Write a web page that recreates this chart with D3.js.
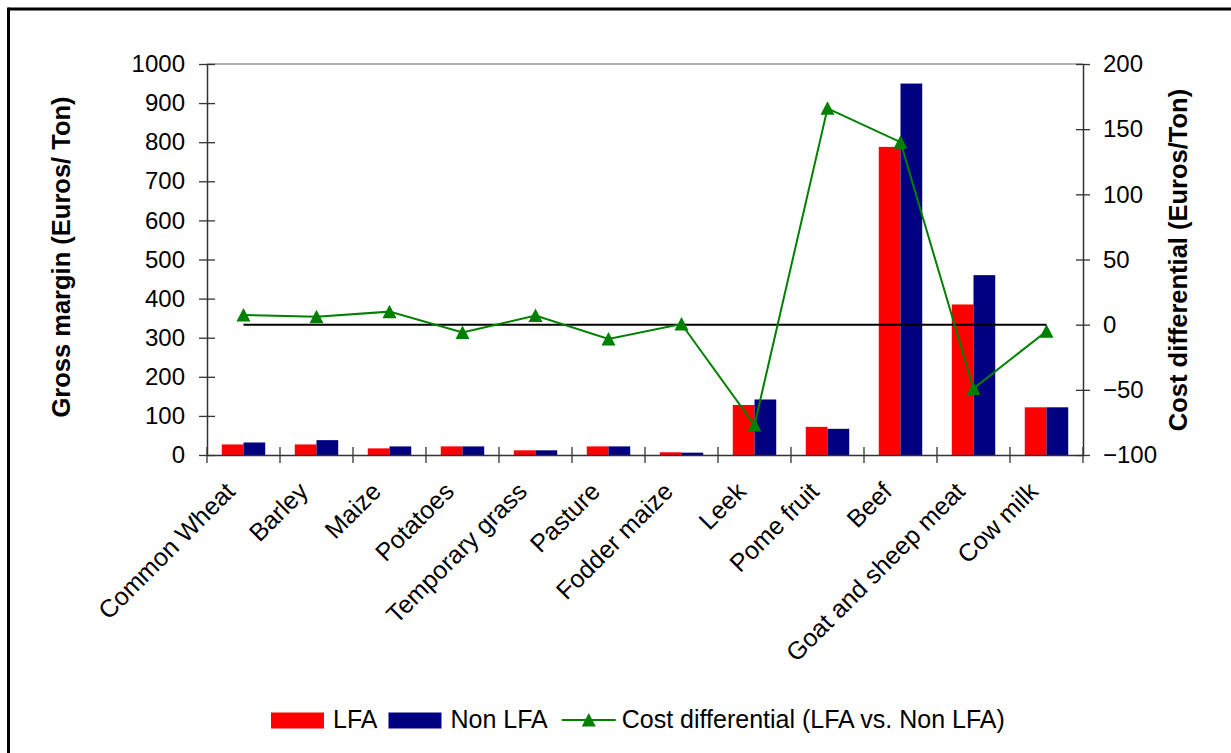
<!DOCTYPE html>
<html>
<head>
<meta charset="utf-8">
<script src="https://cdn.jsdelivr.net/npm/d3@7"></script>
<style>
  html, body { margin: 0; padding: 0; background: #fff; }
  svg { display: block; font-family: "Liberation Sans", Arial, sans-serif; }
</style>
</head>
<body>
<svg id="chart" width="1231" height="753"></svg>
<script>
const categories = ["Common Wheat", "Barley", "Maize", "Potatoes", "Temporary grass", "Pasture",
  "Fodder maize", "Leek", "Pome fruit", "Beef", "Goat and sheep meat", "Cow milk"];
const lfaValues = [27, 27, 17, 22, 12, 22, 7, 128, 72, 788, 385, 122];
const nonLfaValues = [32, 38, 22, 22, 12, 22, 6, 142, 67, 950, 460, 122];
const costDiff = [7.5, 6, 10, -6, 7, -11, 0.5, -77, 166, 140, -49, -5];
const leftTicks = [0, 100, 200, 300, 400, 500, 600, 700, 800, 900, 1000];
const rightTicks = [-100, -50, 0, 50, 100, 150, 200];
const seriesNames = ["LFA", "Non LFA", "Cost differential (LFA vs. Non LFA)"];
const leftTitle = "Gross margin (Euros/ Ton)";
const rightTitle = "Cost differential (Euros/Ton)";

const colors = { "LFA": "#FF0000", "Non LFA": "#000080", line: "#008000" };
const svg = d3.select("#chart");
const tickFont = "24px";
const labelFont = "25px";

// outer frame (top and left edges)
svg.append("line").attr("x1", 8.5).attr("x2", 1231).attr("y1", 9).attr("y2", 9)
  .attr("stroke", "#000").attr("stroke-width", 3);
svg.append("line").attr("x1", 8.5).attr("x2", 8.5).attr("y1", 7.5).attr("y2", 753)
  .attr("stroke", "#000").attr("stroke-width", 3);

const plot = { left: 207, right: 1083, top: 64, bottom: 455 };

const x = d3.scaleBand().domain(categories).range([plot.left, plot.right]).padding(0);
const x1 = d3.scaleBand().domain(["LFA", "Non LFA"]).range([0, x.bandwidth()])
  .paddingInner(0).paddingOuter(0.68);
const yL = d3.scaleLinear().domain([0, 1000]).range([plot.bottom, plot.top]);
const yR = d3.scaleLinear().domain([-100, 200]).range([plot.bottom, plot.top]);

// plot area top border
svg.append("line").attr("x1", plot.left).attr("x2", plot.right)
  .attr("y1", plot.top).attr("y2", plot.top).attr("stroke", "#999").attr("stroke-width", 1.5);

// bars
const groups = svg.append("g").selectAll("g").data(categories).join("g")
  .attr("transform", d => `translate(${x(d)},0)`);
groups.append("rect")
  .attr("x", x1("LFA")).attr("width", x1.bandwidth())
  .attr("y", (d, i) => yL(lfaValues[i])).attr("height", (d, i) => yL(0) - yL(lfaValues[i]))
  .attr("fill", colors["LFA"]);
groups.append("rect")
  .attr("x", x1("Non LFA")).attr("width", x1.bandwidth())
  .attr("y", (d, i) => yL(nonLfaValues[i])).attr("height", (d, i) => yL(0) - yL(nonLfaValues[i]))
  .attr("fill", colors["Non LFA"]);

// left axis
const axL = svg.append("g").attr("transform", `translate(${plot.left},0)`)
  .call(d3.axisLeft(yL).tickValues(leftTicks).tickFormat(d3.format("d"))
    .tickSize(8).tickPadding(14).tickSizeOuter(0));
axL.select(".domain").attr("stroke", "#333").attr("stroke-width", 1.5);
axL.selectAll(".tick line").attr("x1", 8).attr("stroke", "#333").attr("stroke-width", 1.3);
axL.selectAll(".tick text").attr("font-size", tickFont).attr("fill", "#000")
  .attr("font-family", "Liberation Sans, Arial, sans-serif");

// right axis
const axR = svg.append("g").attr("transform", `translate(${plot.right},0)`)
  .call(d3.axisRight(yR).tickValues(rightTicks).tickFormat(d3.format("d"))
    .tickSize(7).tickPadding(13).tickSizeOuter(0));
axR.select(".domain").attr("stroke", "#333").attr("stroke-width", 1.5);
axR.selectAll(".tick line").attr("x1", -7).attr("stroke", "#333").attr("stroke-width", 1.3);
axR.selectAll(".tick text").attr("font-size", tickFont).attr("fill", "#000")
  .attr("font-family", "Liberation Sans, Arial, sans-serif");

// bottom axis
const axB = svg.append("g").attr("transform", `translate(0,${plot.bottom})`)
  .call(d3.axisBottom(x).tickSize(0).tickPadding(0).tickSizeOuter(0));
axB.select(".domain").attr("stroke", "#333").attr("stroke-width", 1.5);
axB.selectAll(".tick text")
  .attr("font-size", labelFont).attr("fill", "#000")
  .attr("font-family", "Liberation Sans, Arial, sans-serif")
  .attr("text-anchor", "end").attr("y", 0).attr("dy", 0)
  .attr("transform", "translate(-7,38) rotate(-45)");
// boundary tick marks
const bounds = categories.map(c => x(c)).concat([x.range()[1]]);
svg.append("g").selectAll("line").data(bounds).join("line")
  .attr("x1", d => d).attr("x2", d => d)
  .attr("y1", plot.bottom - 8).attr("y2", plot.bottom + 8)
  .attr("stroke", "#333").attr("stroke-width", 1.3);

// zero reference line (right axis)
const cx = d => x(d) + x.bandwidth() / 2;
svg.append("line")
  .attr("x1", cx(categories[0])).attr("x2", cx(categories[categories.length - 1]))
  .attr("y1", yR(0)).attr("y2", yR(0)).attr("stroke", "#000").attr("stroke-width", 2);

// cost differential line
const lineGen = d3.line().x((d, i) => cx(categories[i])).y(d => yR(d));
svg.append("path").datum(costDiff).attr("d", lineGen)
  .attr("fill", "none").attr("stroke", colors.line).attr("stroke-width", 2);
const tri = "M0,-7L7,6.5L-7,6.5Z";
svg.append("g").selectAll("path").data(costDiff).join("path")
  .attr("d", tri)
  .attr("transform", (d, i) => `translate(${cx(categories[i])},${yR(d)})`)
  .attr("fill", colors.line);

// axis titles
svg.append("text").attr("transform", "translate(61,257) rotate(-90)")
  .attr("text-anchor", "middle").attr("dy", "0.35em")
  .attr("font-size", "25.5px").attr("font-weight", "bold").text(leftTitle);
svg.append("text").attr("transform", "translate(1178,260) rotate(-90)")
  .attr("text-anchor", "middle").attr("dy", "0.35em")
  .attr("font-size", "25.5px").attr("font-weight", "bold").text(rightTitle);

// legend
const legend = svg.append("g");
let lx = 271;
const ly = 727.5;
seriesNames.forEach((name, i) => {
  if (i < 2) {
    legend.append("rect").attr("x", lx).attr("y", 712.5).attr("width", 53).attr("height", 16)
      .attr("fill", colors[name]);
    lx += 62;
  } else {
    lx += 3;
    legend.append("line").attr("x1", lx).attr("x2", lx + 54).attr("y1", 720).attr("y2", 720)
      .attr("stroke", colors.line).attr("stroke-width", 2);
    legend.append("path").attr("d", tri).attr("transform", `translate(${lx + 27},720)`)
      .attr("fill", colors.line);
    lx += 60;
  }
  const t = legend.append("text").attr("x", lx).attr("y", ly).attr("font-size", labelFont).text(name);
  lx += t.node().getComputedTextLength() + 11;
});
</script>
</body>
</html>
